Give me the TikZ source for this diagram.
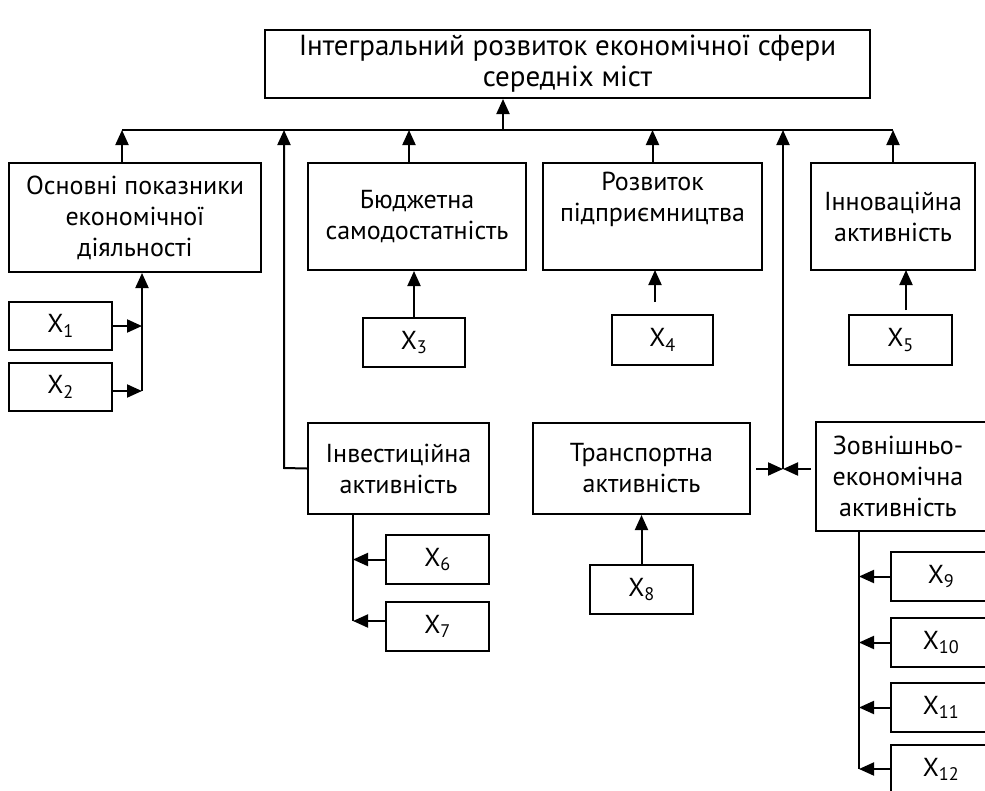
\documentclass[tikz,border=0pt]{standalone}
\usepackage{fontspec}
\setmainfont{PT Sans}
\usetikzlibrary{arrows.meta}
\newcommand\xs[1]{X\textsubscript{#1}}
\begin{document}
\begin{tikzpicture}[x=1pt,y=-1pt,line width=2pt,
  box/.style={draw,rectangle,align=center,inner sep=1pt,font=\fontsize{26}{31}\selectfont},
  arr/.style={-{Triangle[length=15pt,width=13pt]}}]
\useasboundingbox (0,0) rectangle (985,790);
\clip (0,0) rectangle (985,790);
% main boxes
\node[box,minimum width=605,minimum height=68,font=\fontsize{29}{31}\selectfont] (top) at (567.5,64) {Інтегральний розвиток економічної сфери\\середніх міст};
\node[box,minimum width=252,minimum height=109] (A) at (135,217.5) {Основні показники\\економічної\\діяльності};
\node[box,minimum width=218,minimum height=107] (B) at (417,216.5) {Бюджетна\\самодостатність};
\node[box,minimum width=219,minimum height=107] (C) at (652.5,216.5) {Розвиток\\підприємництва\\\strut};
\node[box,minimum width=164,minimum height=107] (D) at (893,216.5) {Інноваційна\\активність};
\node[box,minimum width=181,minimum height=91] (Inv) at (398.5,468.5) {Інвестиційна\\активність};
\node[box,minimum width=217,minimum height=91] (Tr) at (641.5,468.5) {Транспортна\\активність};
\node[box,draw=none,minimum width=162,minimum height=107] (Zov) at (898,476.5) {Зовнішньо-\\економічна\\активність};
\draw (Zov.south west) rectangle ([xshift=40pt]Zov.north east);
% indicator boxes
\node[box,minimum width=103,minimum height=48] (x1) at (60.5,326) {\xs{1}};
\node[box,minimum width=103,minimum height=48] (x2) at (60.5,387) {\xs{2}};
\node[box,minimum width=102,minimum height=49] (x3) at (414,342.5) {\xs{3}};
\node[box,minimum width=101,minimum height=50] (x4) at (662.5,340) {\xs{4}};
\node[box,minimum width=103,minimum height=50] (x5) at (900.5,340) {\xs{5}};
\node[box,minimum width=103,minimum height=49] (x6) at (437.5,559.5) {\xs{6}};
\node[box,minimum width=103,minimum height=49] (x7) at (437.5,626.5) {\xs{7}};
\node[box,minimum width=103,minimum height=49] (x8) at (641.5,589.5) {\xs{8}};
\node[box,minimum width=100,minimum height=49] (x9) at (941,576.5) {\xs{9}};
\node[box,minimum width=100,minimum height=49] (x10) at (941,642.5) {\xs{10}};
\node[box,minimum width=100,minimum height=49] (x11) at (941,707.5) {\xs{11}};
\node[box,minimum width=100,minimum height=49] (x12) at (941,769.5) {\xs{12}};
% bus
\coordinate (busL) at (122,130);
\coordinate (busR) at (893,130);
\coordinate (busT) at (503,130);
\coordinate (busI) at (284,130);
\coordinate (busZ) at (783,130);
\draw (busL) -- (busR);
\draw[arr] (busT) -- (busT |- top.south);
\draw[arr] (A.north -| busL) -- (busL);
\draw[arr] (B.north -| 409,0) -- (409,130);
\draw[arr] (C.north) -- (C.north |- busL);
\draw[arr] (busR |- D.north) -- (busR);
% investment branch
\coordinate (invC) at (284,468);
\draw[arr] (Inv.west) -- (invC) -- (busI);
% transport / external branch
\coordinate (junc) at (783,469);
\draw[arr] ([xshift=5pt]Tr.east |- junc) -- (junc);
\draw[arr] ([xshift=-5pt]Zov.west |- junc) -- (junc);
\draw[arr] (junc) -- (busZ);
% X1, X2 to A
\coordinate (aV) at (142,391);
\draw[arr] (aV) -- (aV |- A.south);
\draw[arr] (x1.east) -- (x1.east -| aV);
\draw[arr] (x2.east |- aV) -- (aV);
% X3, X4, X5, X8
\draw[arr] (x3.north) -- (x3.north |- B.south);
\draw[arr] ([yshift=12pt]x4.north -| 655,0) -- (655,270);
\draw[arr] ([yshift=4pt]x5.north -| 906,0) -- (906,270);
\draw[arr] (x8.north) -- (Tr.south);
% X6, X7 from investment
\coordinate (iV) at (353,621);
\draw (Inv.south -| iV) -- (iV);
\draw[arr] (x6.west) -- (x6.west -| iV);
\draw[arr] (x7.west |- iV) -- (iV);
% X9-X12 from external
\coordinate (zV) at (859,769);
\draw (Zov.south -| zV) -- (zV);
\draw[arr] (x9.west) -- (x9.west -| zV);
\draw[arr] (x10.west) -- (x10.west -| zV);
\draw[arr] (x11.west) -- (x11.west -| zV);
\draw[arr] (x12.west |- zV) -- (zV);
\end{tikzpicture}
\end{document}
